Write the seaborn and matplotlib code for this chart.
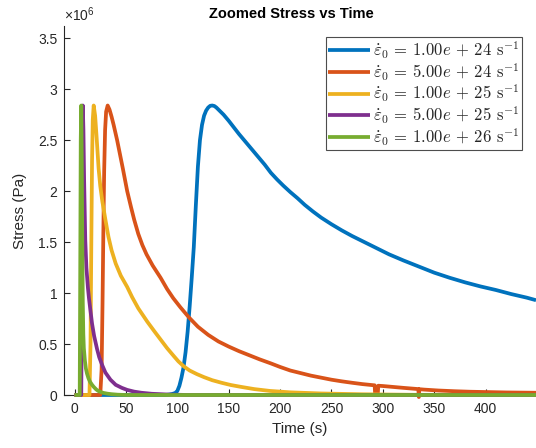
import numpy as np
import pandas as pd
import matplotlib
matplotlib.use("Agg")
import matplotlib.pyplot as plt
from matplotlib.font_manager import FontProperties
from matplotlib.ticker import FixedLocator, FixedFormatter
import seaborn as sns

# Stress histories (time in s, stress in units of 1e6 Pa) for each strain rate
rate_labels = [
    r"$\dot{\varepsilon}_0$ = 1.00$e$ + 24 s$^{-1}$",
    r"$\dot{\varepsilon}_0$ = 5.00$e$ + 24 s$^{-1}$",
    r"$\dot{\varepsilon}_0$ = 1.00$e$ + 25 s$^{-1}$",
    r"$\dot{\varepsilon}_0$ = 5.00$e$ + 25 s$^{-1}$",
    r"$\dot{\varepsilon}_0$ = 1.00$e$ + 26 s$^{-1}$",
]
rate_colors = ["#0072BD", "#D95319", "#EDB120", "#7E2F8E", "#77AC30"]

t_1e24 = [0, 88, 92, 95, 98, 100, 102, 104, 106, 108, 110, 112, 114, 116, 118,
          120, 122, 124, 126, 128, 130, 132, 134, 136, 138, 140, 145, 150, 155,
          160, 165, 170, 175, 180, 185, 191, 197, 203, 210, 217, 224, 232, 240,
          250, 260, 270, 282, 294, 306, 320, 335, 350, 365, 380, 395, 410, 425,
          440, 449]
s_1e24 = [0, 0, 0.004, 0.01, 0.02, 0.04, 0.09, 0.17, 0.27, 0.42, 0.62, 0.87,
          1.15, 1.45, 1.86, 2.24, 2.5, 2.65, 2.74, 2.79, 2.82, 2.837, 2.84,
          2.835, 2.82, 2.8, 2.75, 2.69, 2.625, 2.56, 2.5, 2.44, 2.38, 2.32,
          2.26, 2.18, 2.115, 2.055, 1.99, 1.93, 1.865, 1.8, 1.74, 1.675, 1.615,
          1.56, 1.5, 1.44, 1.38, 1.32, 1.26, 1.2, 1.15, 1.105, 1.065, 1.03,
          0.99, 0.955, 0.93]

t_5e24 = [0, 25, 26.3, 27.2, 28, 28.8, 29.7, 30.7, 32.2, 34, 36, 38, 41.4, 44,
          47, 51.2, 55, 58, 62, 66, 70, 76, 83.7, 90, 96, 103, 111.4, 120, 130,
          140, 150, 160, 170, 180, 191, 200, 210, 220, 230, 240, 250, 260, 270,
          280, 288.8, 292, 292.5, 295, 295.5, 300, 310, 320, 334.5, 335, 335.5,
          340, 354, 370, 385, 400, 420, 449]
s_5e24 = [0, 0, 0.25, 0.9, 1.6, 2.2, 2.6, 2.78, 2.84, 2.8, 2.73, 2.65, 2.5,
          2.37, 2.22, 2.0, 1.84, 1.72, 1.58, 1.47, 1.38, 1.27, 1.15, 1.04,
          0.95, 0.86, 0.76, 0.67, 0.59, 0.525, 0.475, 0.43, 0.39, 0.35, 0.31,
          0.275, 0.24, 0.215, 0.19, 0.17, 0.15, 0.134, 0.12, 0.107, 0.098,
          0.095, 0.0, 0.0, 0.091, 0.088, 0.079, 0.07, 0.058, -0.02, 0.057,
          0.053, 0.044, 0.037, 0.032, 0.029, 0.025, 0.022]

t_1e25 = [0, 14.5, 15.5, 16.3, 17, 17.7, 18.6, 20, 21.5, 23.4, 25, 27, 30, 33,
          36, 40, 45, 51.2, 56, 62, 70.7, 78, 84, 90, 96.7, 101, 106.4, 112,
          119, 126, 134, 143, 152, 161.8, 174.8, 190, 210, 240, 280, 330, 449]
s_1e25 = [0, 0, 0.5, 1.5, 2.3, 2.7, 2.84, 2.74, 2.52, 2.22, 2.05, 1.9, 1.72,
          1.55, 1.42, 1.29, 1.17, 1.06, 0.96, 0.85, 0.72, 0.62, 0.54, 0.46,
          0.38, 0.33, 0.28, 0.24, 0.205, 0.175, 0.145, 0.12, 0.098, 0.08,
          0.058, 0.04, 0.026, 0.015, 0.007, 0.002, 0]

t_5e25 = [0, 6.5, 7.0, 7.5, 8.0, 8.6, 9.3, 10.4, 11.5, 13, 14, 15.3, 17, 19,
          21.9, 24, 27, 30, 34.9, 40, 46, 51.2, 58, 65, 75, 90, 110, 449]
s_5e25 = [0, 0, 0.9, 2.2, 2.84, 2.6, 2.1, 1.52, 1.25, 1.05, 0.95, 0.84, 0.7,
          0.58, 0.45, 0.37, 0.29, 0.22, 0.15, 0.1, 0.07, 0.05, 0.033, 0.022,
          0.012, 0.005, 0, 0]

t_1e26 = [0, 5.0, 5.5, 6.0, 6.5, 7.0, 7.5, 8.0, 8.5, 9, 10, 11, 12.1, 13.5,
          15, 17, 18.6, 21, 23, 26, 28.3, 32, 36, 42, 50, 449]
s_1e26 = [0, 0, 1.2, 2.5, 2.84, 2.3, 1.5, 0.9, 0.6, 0.46, 0.34, 0.26, 0.21,
          0.165, 0.13, 0.1, 0.08, 0.055, 0.04, 0.027, 0.02, 0.013, 0.008,
          0.003, 0, 0]

y_ticks = [0, 0.5, 1, 1.5, 2, 2.5, 3, 3.5]
y_tick_labels = ["0", "0.5", "1", "1.5", "2", "2.5", "3", "3.5"]
x_ticks = [0, 50, 100, 150, 200, 250, 300, 350, 400]
x_tick_labels = ["0", "50", "100", "150", "200", "250", "300", "350", "400"]

series = [(t_1e24, s_1e24), (t_5e24, s_5e24), (t_1e25, s_1e25),
          (t_5e25, s_5e25), (t_1e26, s_1e26)]
frames = []
for label, (tt, ss) in zip(rate_labels, series):
    frames.append(pd.DataFrame({"Time": tt,
                                "Stress": np.asarray(ss) * 1e6,
                                "rate": label}))
df = pd.concat(frames, ignore_index=True)

sns.set_style("ticks")
plt.rcParams["font.family"] = ["Liberation Sans", "DejaVu Sans"]
plt.rcParams["mathtext.fontset"] = "custom"
plt.rcParams["mathtext.rm"] = "Liberation Sans"
plt.rcParams["mathtext.it"] = "Liberation Sans:italic"

ink = "#262626"
W, H = 536, 448
fig = plt.figure(figsize=(W / 100, H / 100), dpi=100)
left, right, bottom, top = 64.3, 536, 395, 26
ax = fig.add_axes([left / W, (H - bottom) / H, (right - left) / W,
                   (bottom - top) / H])

sns.lineplot(data=df, x="Time", y="Stress", hue="rate",
             hue_order=rate_labels, palette=rate_colors, estimator=None,
             sort=False, linewidth=2.7, legend=False, ax=ax, clip_on=False,
             solid_joinstyle="round", solid_capstyle="butt")

ax.set_xlim(-10, 449)
ax.set_ylim(0, 3.62e6)
ax.xaxis.set_major_locator(FixedLocator(x_ticks))
ax.xaxis.set_major_formatter(FixedFormatter(x_tick_labels))
ax.yaxis.set_major_locator(FixedLocator([v * 1e6 for v in y_ticks]))
ax.yaxis.set_major_formatter(FixedFormatter(y_tick_labels))
ax.tick_params(direction="in", length=4, width=0.8, colors=ink,
               labelsize=10, pad=5)
for side in ("top", "right"):
    ax.spines[side].set_visible(False)
for side in ("left", "bottom"):
    ax.spines[side].set_color(ink)
    ax.spines[side].set_linewidth(0.8)
    ax.spines[side].set_zorder(0)

ax.set_xlabel("Time (s)", fontsize=11, color=ink, labelpad=4)
ax.set_ylabel("Stress (Pa)", fontsize=11, color=ink, labelpad=8)

fig.text(left / W, 1 - 21 / H, r"$\times10^{6}$", fontsize=10, color=ink,
         ha="left", va="baseline")
fig.text(291.5 / W, 1 - 18 / H, "Zoomed Stress vs Time", fontsize=10.5,
         fontweight="bold", color="black", ha="center", va="baseline")

handles = ax.get_lines()[:len(rate_labels)]
leg = ax.legend(handles, rate_labels, loc="upper right",
                bbox_to_anchor=((522 - left) / (right - left),
                                (bottom - 37) / (bottom - top)),
                borderaxespad=0, fancybox=False, framealpha=1,
                edgecolor="0.3", handlelength=2.5, handletextpad=0.2,
                labelspacing=0.0, borderpad=0.15,
                prop=FontProperties(family="cmr10", size=12,
                                    math_fontfamily="cm"))
leg.get_frame().set_linewidth(0.8)

fig.savefig("out.png", dpi=100)
